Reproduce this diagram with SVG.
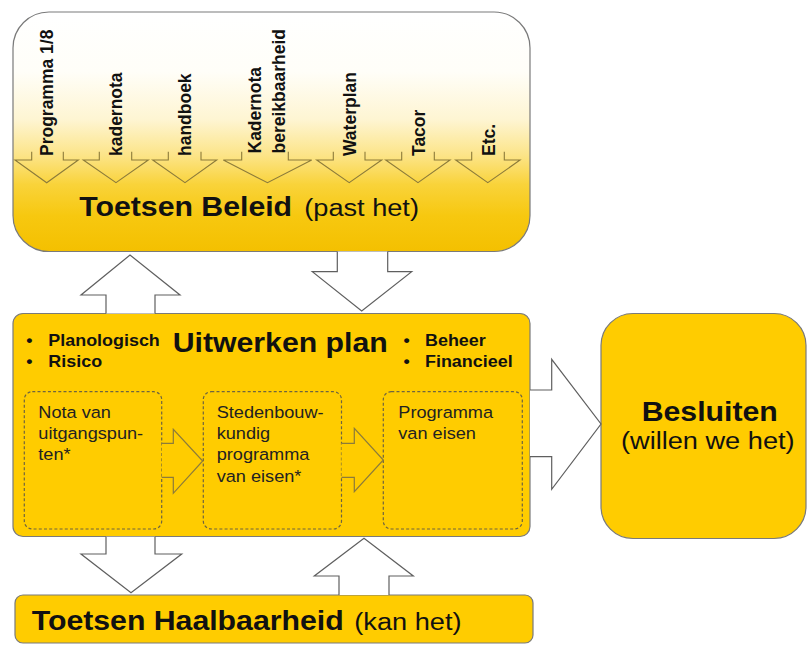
<svg xmlns="http://www.w3.org/2000/svg" width="807" height="645" viewBox="0 0 807 645">
  <defs>
    <linearGradient id="beleidGrad" x1="0" y1="0" x2="0" y2="1">
      <stop offset="0" stop-color="#FFFFFF"/>
      <stop offset="0.25" stop-color="#FFFEF8"/>
      <stop offset="0.45" stop-color="#FEF5D2"/>
      <stop offset="0.6" stop-color="#FCE487"/>
      <stop offset="0.72" stop-color="#F9D33A"/>
      <stop offset="0.85" stop-color="#F7C810"/>
      <stop offset="1" stop-color="#F4C000"/>
    </linearGradient>
    <style>
      text { font-family: "Liberation Sans", Arial, sans-serif; fill: #111; }
      .box { stroke: #7a7a7a; stroke-width: 1.2; }
      .yellow { fill: #FFCC00; }
      .dash { fill: none; stroke: #6e6440; stroke-width: 1.2; stroke-dasharray: 3 2.2; }
      .inarrow { fill: none; stroke: #8C7B3A; stroke-width: 1.1; }
      .vlabel { font-size: 17.5px; font-weight: bold; }
      .title { font-size: 27.5px; font-weight: bold; }
      .sub { font-size: 24.7px; font-weight: normal; }
      .bul { font-size: 16.3px; font-weight: bold; }
      .note { font-size: 16.5px; fill: #222; }
      .bigarrow { fill: #FFFFFF; stroke: #5f5f5f; stroke-width: 1.2; }
      .smallarrow { fill: #FFCC00; stroke: #8C7B3A; stroke-width: 1.2; }
    </style>
  </defs>

  <!-- Toetsen Beleid -->
  <g id="toetsen-beleid">
    <rect class="box" x="13" y="12" width="517" height="239.5" rx="36" fill="url(#beleidGrad)"/>
    <g id="beleid-inputs">
      <path class="inarrow" d="M31.7,151.7 V160 H15 L46.7,182.7 L78.3,160 H63.3 V151.7"/>
      <path class="inarrow" d="M99.3,151.7 V160 H83.3 L116,182.7 L148.3,160 H131.7 V151.7"/>
      <path class="inarrow" d="M168.3,151.7 V160 H152.7 L185,182.7 L216.7,160 H201 V151.7"/>
      <path class="inarrow" d="M241.7,151.7 V160 H223.3 L267.5,182.7 L311.7,160 H288.3 V151.7"/>
      <path class="inarrow" d="M333.3,151.7 V160 H316.7 L349.2,182.7 L381.7,160 H365 V151.7"/>
      <path class="inarrow" d="M401.7,151.7 V160 H385.7 L418,182.7 L450,160 H434.3 V151.7"/>
      <path class="inarrow" d="M471.7,151.7 V160 H455.7 L487.8,182.7 L520,160 H504.3 V151.7"/>
      <text class="vlabel" transform="translate(53 156) scale(1.08 1) rotate(-90)">Programma 1/8</text>
      <text class="vlabel" transform="translate(121.8 156) scale(1.08 1) rotate(-90)">kadernota</text>
      <text class="vlabel" transform="translate(191.3 156) scale(1.08 1) rotate(-90)">handboek</text>
      <text class="vlabel" transform="translate(261.3 153.5) scale(1.08 1) rotate(-90)">Kadernota</text>
      <text class="vlabel" transform="translate(284.8 153.5) scale(1.08 1) rotate(-90)">bereikbaarheid</text>
      <text class="vlabel" transform="translate(356.3 156) scale(1.08 1) rotate(-90)">Waterplan</text>
      <text class="vlabel" transform="translate(425.3 156) scale(1.08 1) rotate(-90)">Tacor</text>
      <text class="vlabel" transform="translate(495.3 156) scale(1.08 1) rotate(-90)">Etc.</text>
    </g>
    <text transform="translate(79.3 216) scale(1.1 1)"><tspan class="title" x="0" y="0">Toetsen Beleid</tspan><tspan class="sub" x="204.5" y="0">(past het)</tspan></text>
  </g>

  <!-- Uitwerken plan -->
  <g id="uitwerken-plan">
    <rect class="box yellow" x="13" y="313.5" width="517" height="223" rx="10"/>
    <text class="title" transform="translate(172.7 351.5) scale(1.1 1)">Uitwerken plan</text>
    <text class="bul" transform="translate(26.2 346) scale(1.1 1)"><tspan x="0" y="0">•</tspan><tspan x="0" y="21.5">•</tspan></text>
    <text class="bul" transform="translate(48.3 346) scale(1.1 1)"><tspan x="0" y="0">Planologisch</tspan><tspan x="0" y="21.5">Risico</tspan></text>
    <text class="bul" transform="translate(403.6 346) scale(1.1 1)"><tspan x="0" y="0">•</tspan><tspan x="0" y="21.5">•</tspan></text>
    <text class="bul" transform="translate(425 346) scale(1.1 1)"><tspan x="0" y="0">Beheer</tspan><tspan x="0" y="21.5">Financieel</tspan></text>

    <g id="nota-van-uitgangspunten">
      <rect class="dash" x="24.3" y="391.7" width="137.4" height="137.3" rx="8"/>
      <text class="note" transform="translate(38.3 418.3) scale(1.1 1)"><tspan x="0" y="0">Nota van</tspan><tspan x="0" y="21">uitgangspun-</tspan><tspan x="0" y="42">ten*</tspan></text>
    </g>
    <g id="stedenbouwkundig-programma">
      <rect class="dash" x="203.3" y="391.7" width="138.2" height="137.3" rx="8"/>
      <text class="note" transform="translate(216.7 418.3) scale(1.1 1)"><tspan x="0" y="0">Stedenbouw-</tspan><tspan x="0" y="21.1">kundig</tspan><tspan x="0" y="42.2">programma</tspan><tspan x="0" y="63.3">van eisen*</tspan></text>
    </g>
    <g id="programma-van-eisen">
      <rect class="dash" x="383.3" y="391.7" width="139" height="137.3" rx="8"/>
      <text class="note" transform="translate(398.3 418.3) scale(1.1 1)"><tspan x="0" y="0">Programma</tspan><tspan x="0" y="21">van eisen</tspan></text>
    </g>
  </g>

  <!-- Besluiten -->
  <g id="besluiten">
    <rect class="box yellow" x="601" y="313.5" width="205" height="225" rx="32"/>
    <text class="title" transform="translate(641.7 420.7) scale(1.1 1)">Besluiten</text>
    <text class="sub" transform="translate(621 449) scale(1.1 1)">(willen we het)</text>
  </g>

  <!-- Toetsen Haalbaarheid -->
  <g id="toetsen-haalbaarheid">
    <rect class="box yellow" x="15" y="595" width="518" height="48" rx="8"/>
    <text transform="translate(31.7 630) scale(1.1 1)"><tspan class="title" x="0" y="0">Toetsen Haalbaarheid</tspan><tspan class="sub" x="293.3" y="0">(kan het)</tspan></text>
  </g>

  <!-- Connectors -->
  <g id="connectors">
    <path class="bigarrow" d="M106,313.5 V295 H81 L130,255 L180,295 H155 V313.5"/>
    <path class="bigarrow" d="M337.3,251.5 V271.7 H312.3 L361.7,311 L411.7,271.7 H387.7 V251.5"/>
    <path class="bigarrow" d="M106,536.7 V554 H81 L131,592.7 L181.7,554 H155 V536.7"/>
    <path class="bigarrow" d="M339,595 V576 H314.3 L364,538.3 L413.3,576 H389 V595"/>
    <path class="bigarrow" d="M530,390 H551.7 V359.3 L601,424 L551.7,489.3 V456.7 H530"/>
    <path class="smallarrow" d="M161.7,443.3 H173.3 V429.3 L202.7,461 L173.3,493.3 V477.3 H161.7"/>
    <path class="smallarrow" d="M341.5,443.3 H354.3 V428.3 L383.3,460 L354.3,491.7 V477.3 H341.5"/>
  </g>
</svg>
